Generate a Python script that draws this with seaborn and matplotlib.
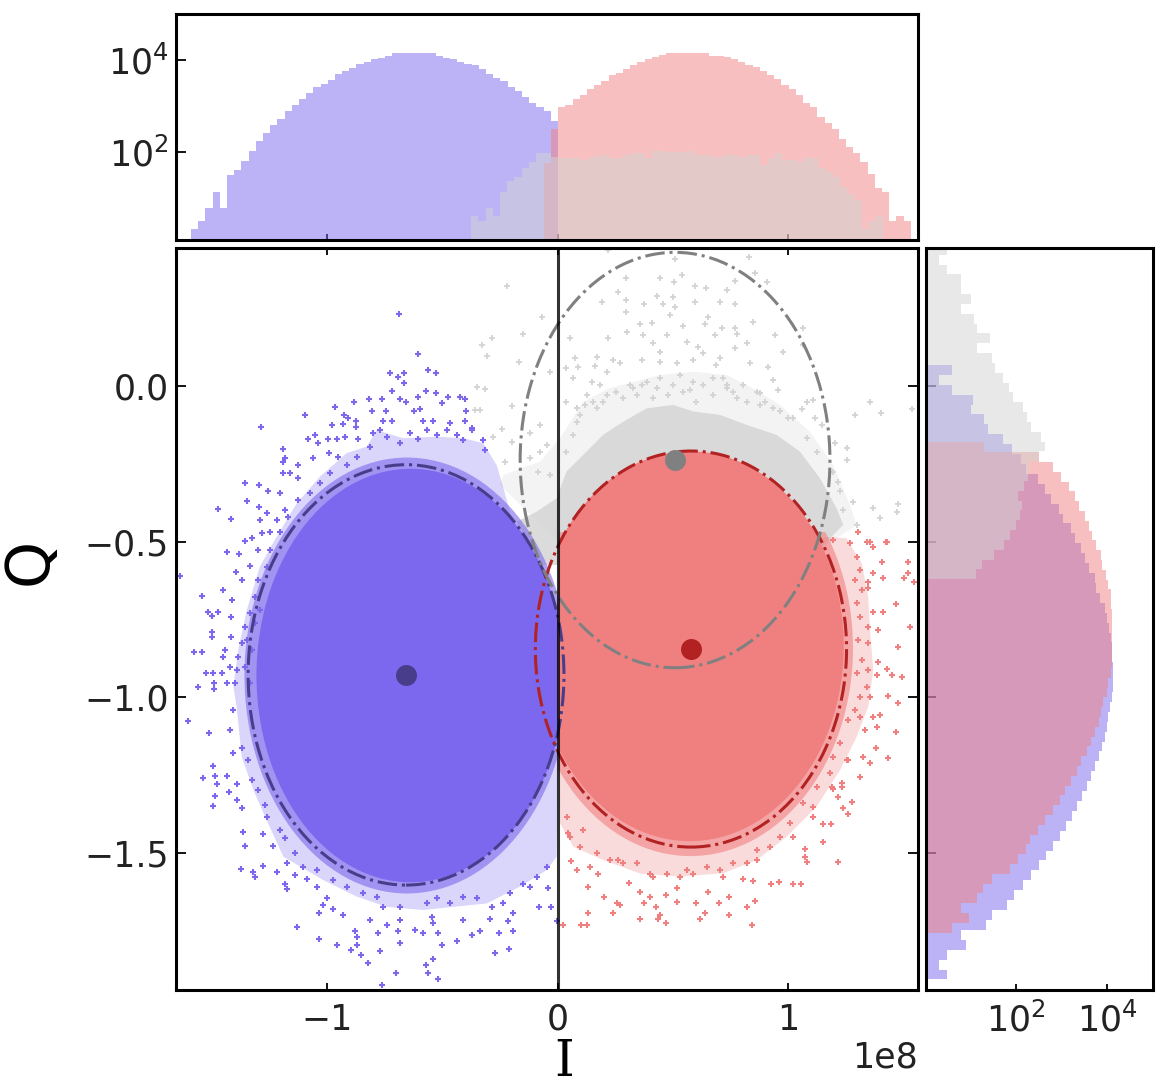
import numpy as np
import matplotlib
matplotlib.use("Agg")
import matplotlib.pyplot as plt
from matplotlib.patches import Ellipse, Rectangle
from matplotlib.ticker import NullLocator
import seaborn as sns

# =====================
# DATA (I in units of 1e8)
# =====================
SCALE = 1e8

top_blue_range = (-1.592, 0.0)
top_blue = [2, 3, 6, 13, 6, 31, 39, 63, 105, 170, 257, 380, 513, 759, 1023, 1380, 1862, 2512, 3020, 3715,
            5012, 5623, 6761, 8318, 9120, 10233, 11220, 12303, 13804, 13804, 13804, 13804, 13804, 13804,
            12303, 11220, 10233, 9120, 8318, 7586, 6166, 5012, 4074, 3388, 2512, 2089, 1549, 1122, 933, 759, 457]
top_red_range = (-0.061, 1.531)
top_red = [56, 309, 933, 1023, 1380, 1698, 2291, 2818, 3388, 4677, 5129, 6310, 7586, 9120, 10233, 11482, 12589,
           13804, 13804, 13804, 13804, 13804, 13804, 12303, 12303, 11482, 10233, 9120, 7586, 6918, 5623, 4677,
           3802, 2818, 2291, 1698, 1122, 933, 562, 417, 309, 190, 126, 95, 58, 32, 16, 13, 3, 4, 3]
top_gray_range = (-0.377, 1.412)
top_gray = [4, 3, 6, 4, 13, 23, 28, 44, 60, 91, 91, 76, 71, 71, 71, 65, 74, 79, 85, 71, 71, 85, 95, 95, 71,
            105, 105, 98, 98, 98, 105, 85, 85, 76, 76, 85, 85, 71, 85, 85, 52, 71, 95, 65, 65, 59, 71, 71,
            44, 35, 28, 17, 12, 9, 2, 3, 4]

# right histogram, listed from high Q to low Q
right_blue_range = (0.0675, -1.906)
right_blue = [4, 2, 4, 11, 10, 20, 24, 52, 79, 129, 166, 295, 427, 575, 851, 1047, 1585, 1950, 2570, 3162,
              3890, 5248, 5754, 6918, 8710, 9772, 10715, 11749, 12882, 12882, 13183, 13183, 13183, 12303, 11220,
              10233, 9772, 8710, 7586, 6457, 5248, 4365, 3548, 2754, 2138, 1660, 1230, 912, 646, 457,
              324, 214, 138, 91, 63, 30, 22, 6, 8, 3, 2, 3]
right_red_range = (-0.181, -1.756)
right_red = [20, 309, 646, 955, 1445, 1950, 2344, 3236, 3890, 4677, 5754, 7079, 7762, 9550, 10471, 11749, 11749,
             12882, 12882, 12882, 12882, 12882, 12303, 11749, 10471, 9772, 7943, 7079, 6607, 5370, 4365, 3548,
             2630, 2138, 1585, 1175, 891, 646, 437, 295, 200, 162, 110, 74, 30, 19, 14, 6, 9, 4]
right_gray_range = (0.453, -0.621)
right_gray = [3, 2, 3, 6, 6, 10, 6, 12, 14, 27, 14, 30, 35, 52, 71, 87, 141, 174, 214, 355, 427, 309, 191, 178,
              148, 110, 132, 120, 98, 72, 54, 33, 18, 13]

# class means and fitted circles: centre I, centre Q, semi axis I, semi axis Q
blue_mean = (-0.659, -0.928, 0.685, 0.675)
red_mean = (0.577, -0.845, 0.675, 0.636)
gray_mean = (0.508, -0.238, 0.672, 0.667)

# solid core of the clouds and the denser band round it: centre I, centre Q, semi axis I, semi axis Q
blue_core = (-0.640, -0.930, 0.668, 0.664)
red_core = (0.572, -0.836, 0.668, 0.626)
blue_band = (-0.655, -0.930, 0.705, 0.700)
red_band = (0.575, -0.842, 0.705, 0.668)

# outlines of the dense speckled zones
blue_halo_i = [-.230, -.266, -.324, -.410, -.526, -.671, -.786, -.830, -.917, -1.032, -1.133, -1.220, -1.293,
               -1.350, -1.387, -1.408, -1.394, -1.372, -1.321, -1.264, -1.191, -1.018, -.873, -.743, -.584,
               -.454, -.309, -.165, -.049, -.006, 0.0, 0.0, -.1]
blue_halo_q = [-.345, -.254, -.184, -.168, -.163, -.168, -.142, -.195, -.216, -.291, -.377, -.484, -.580,
               -.720, -.848, -.966, -1.030, -1.191, -1.298, -1.394, -1.512, -1.587, -1.640, -1.673, -1.683,
               -1.673, -1.662, -1.608, -1.555, -1.512, -1.2, -.7, -.7]
red_halo_i = [1.130, 1.252, 1.318, 1.346, 1.354, 1.368, 1.346, 1.296, 1.224, 1.122, .992, .862, .717, .529,
              .356, .197, .067, .009, 0.0, .5]
red_halo_q = [-.484, -.489, -.570, -.677, -.784, -.912, -1.030, -1.127, -1.234, -1.351, -1.448, -1.523, -1.565,
              -1.576, -1.566, -1.523, -1.480, -1.405, -1.2, -.8]
gray_body_i = [-.078, -.179, -.093, -.006, .037, .124, .196, .283, .385, .500, .587, .703, .818, .948, 1.050,
               1.137, 1.209, 1.238, 1.180, 1.093, .587, .009]
gray_body_q = [-.575, -.436, -.404, -.361, -.275, -.211, -.157, -.115, -.072, -.061, -.082, -.093, -.125, -.157,
               -.211, -.297, -.393, -.446, -.489, -.564, -.404, -.575]
gray_halo_i = [-.252, -.237, -.078, .009, .110, .225, .443, .587, .732, .848, .963, 1.093, 1.194, 1.267, 1.296,
               1.165, .5, 0.0]
gray_halo_q = [-.318, -.286, -.243, -.168, -.050, -.007, .035, .046, .035, -.008, -.061, -.147, -.254, -.382, -.447,
               -.511, -.5, -.5]

# single shots
blue_i = [-.690, -.607, -.729, -.668, -.694, -.668, -.564, -.529, -.720, -.572, -.529, -.607, -.425, -.477, -.763,
          -.821, -.885, -.685, -.659, -.503, -.402, -.969, -.807, -.746, -.624, -.598, -.399, -1.097, -.928, -.911,
          -.720, -.757, -.584, -.541, -.468, -.403, -.876, -.980, -1.287, -.931, -.876, -.374, -1.083, -1.055, -.998,
          -.960, -.924, -.866, -1.191, -1.040, -1.184, -1.191, -1.061, -.995, -.953, -1.191, -1.126, -1.162, -1.356,
          -1.295, -1.126, -1.256, -1.206, -1.347, -1.476, -1.417, -1.295, -1.264, -1.184, -1.217, -1.293, -1.358,
          -1.329, -1.434, -1.382, -1.285, -1.249, -1.300, -1.398, -1.336, -1.372, -1.452, -1.640, -1.546, -1.415,
          -1.520, -1.502, -1.476, -1.420, -1.502, -1.502, -1.420, -1.579, -1.546, -1.444, -1.452, -1.528, -1.495,
          -1.459, -1.423, -1.562, -1.492, -1.492, -1.437,
          -1.605, -1.512, -1.495, -1.538, -1.486, -1.478, -1.434, -1.426, -1.486, -1.495, -1.391, -1.391, -1.372,
          -1.365, -1.356, -1.278, -1.235, -1.373, -1.321, -1.313, -1.278, -1.217, -1.184, -1.177, -1.141, -1.090,
          -1.047, -1.003, -1.021, -.977, -1.038, -.934, -1.133, -1.038, -.960, -.880, -.873, -.873, -.898, -.856,
          -.823, -.772, -.779, -.743, -.692, -.685, -.620, -.584, -.519, -.504, -.439, -.374, -.338, -.254, -.193,
          -.273, -.211, -.541, -.572, -.703, -.565, -.522, -.762, -.082, -.032, -.006, -.193, -.295, -.215, -.815,
          -.541, -.410, -.548, -.685]
blue_q = [.231, .103, .041, .041, .028, .009, .051, .041, -.017, -.017, -.024, -.036, -.036, -.036, -.043,
          -.043, -.050, -.043, -.050, -.056, -.043, -.069, -.081, -.081, -.081, -.075, -.081, -.094, -.094, -.104,
          -.114, -.114, -.114, -.114, -.120, -.114, -.114, -.125, -.133, -.122, -.131, -.136, -.171, -.159, -.171,
          -.171, -.165, -.171, -.201, -.184, -.232, -.243, -.232, -.216, -.227, -.279, -.254, -.279, -.311,
          -.318, -.297, -.336, -.345, -.368, -.394, -.426, -.388, -.409, -.398, -.431, -.431, -.497,
          -.489, -.533, -.540, -.473, -.468, -.527, -.596, -.578, -.623, -.655, -.610, -.675, -.687,
          -.725, -.739, -.725, -.741, -.789, -.807, -.805, -.853, -.853, -.848, -.872, -.923, -.923,
          -.923, -.902, -.968, -.955, -.974, -.955,
          -1.075, -1.114, -1.221, -1.260, -1.253, -1.280, -1.253, -1.305, -1.317, -1.349, -1.280, -1.330, -1.357,
          -1.432, -1.477, -1.439, -1.477, -1.553, -1.560, -1.578, -1.541, -1.560, -1.598, -1.617, -1.572, -1.585,
          -1.608, -1.643, -1.668, -1.681, -1.694, -1.700, -1.739, -1.776, -1.796, -1.750, -1.771, -1.796, -1.812, -1.828,
          -1.854, -1.815, -1.758, -1.731, -1.751, -1.790, -1.747, -1.758, -1.758, -1.796, -1.783, -1.764, -1.751, -1.758, -1.751,
          -1.822, -1.809, -1.840, -1.860, -1.885, -1.885, -1.904, -1.923, -1.675, -1.675, -1.718, -1.694, -1.713, -1.719, -1.716,
          -1.726, -1.716, -1.705, -1.716]
blue_near_i = [-.801, -.772, -.743, -.685, -.642, -.606, -.570, -.526, -.483, -.440, -.410, -.374, -.324, -.316,
               -.815, -.873, -.917, -.989, -1.032, -1.076, -1.126, -1.170, -1.206, -1.249, -1.264, -1.300, -1.314,
               -1.336, -1.358, -1.372, -1.387, -1.394, -1.401, -1.336, -1.358, -1.329, -1.350, -1.314, -1.293,
               -1.408, -1.423, -1.372, -1.408, -1.343, -1.329, -1.300, -1.271, -1.264, -1.206, -1.184, -1.141,
               -1.177, -1.104, -1.047, -.974, -.917, -.844, -.786, -.757, -.685, -.569, -.526, -.468, -.410, -.353,
               -.288, -.237, -.208, -.150, -.092, -.049, -.042, -.121]
blue_near_q = [-.152, -.141, -.165, -.184, -.152, -.171, -.141, -.157, -.141, -.157, -.173, -.141, -.173, -.206,
               -.195, -.227, -.254, -.281, -.313, -.345, -.366, -.420, -.468, -.527, -.580, -.623, -.677,
               -.730, -.773, -.827, -.870, -.912, -.955, -.955, -.902, -.848, -.816, -.762, -.720,
               -1.041, -1.105, -1.164, -1.180, -1.201, -1.266, -1.298, -1.346, -1.384, -1.426, -1.453, -1.501,
               -1.533, -1.544, -1.555, -1.587, -1.608, -1.630, -1.640, -1.673, -1.673, -1.662, -1.646, -1.662, -1.640, -1.646,
               -1.673, -1.662, -1.630, -1.598, -1.576, -1.544, -1.614, -1.608]

red_i = [1.423, 1.354, 1.520, 1.404, 1.520, 1.501, 1.545, 1.411, 1.467, 1.411, 1.527, 1.477, 1.390, 1.390, 1.426,
         1.448, 1.494, 1.383, 1.433, 1.477, 1.397, 1.368, 1.383, 1.467, 1.380, 1.433, 1.354, 1.322, 1.310, 1.277,
         1.235, 1.260, 1.216, 1.183, 1.148, 1.148, 1.216, 1.072, 1.072, 1.079, 1.053, 1.021, .959, .924, .847, .804,
         .855, .821, .840, .743, .700, .743, .638, .616, .469, .442, .435, .356, .240, .132, .124, .098, .020, .269,
         .255, .201, .132, .356, .373, .425, .399, .518, .601, .652, .515, .310, .469, .139, .084, .055, .175, .045,
         1.368, 1.346, 1.368, 1.346, 1.354, 1.332, 1.252, 1.231, 1.195, 1.108, 1.021, .862, .717, .558, .399, .262,
         1.426, 1.519, 1.368, 1.339, 1.303]
red_q = [-.502, -.502, -.566, -.566, -.602, -.618, -.629, -.618, -.700, -.725, -.775, -.839, -.784, -.886, -.910,
         -.928, -.934, -.928, -.995, -1.019, -1.057, -1.062, -1.094, -1.113, -1.164, -1.196, -1.212, -1.191, -1.255, -1.335,
         -1.355, -1.375, -1.319, -1.407, -1.407, -1.464, -1.528, -1.488, -1.512, -1.528, -1.598, -1.598, -1.592, -1.598, -1.589, -1.585,
         -1.653, -1.673, -1.731, -1.640, -1.662, -1.699, -1.694, -1.712, -1.726, -1.699, -1.712, -1.712, -1.694, -1.694, -1.731, -1.731, -1.731, -1.667,
         -1.660, -1.640, -1.610, -1.624, -1.662, -1.675, -1.640, -1.656, -1.662, -1.624, -1.614, -1.596, -1.635, -1.546, -1.555, -1.525, -1.566, -1.437,
         -.602, -.650, -.725, -.827, -.998, -1.105, -1.201, -1.276, -1.293, -1.383, -1.448, -1.523, -1.576, -1.555, -1.566, -1.523,
         -.500, -.565, -.516, -.500, -.468]
red_near_i = [1.195, 1.267, 1.296, 1.310, 1.289, 1.318, 1.346, 1.296, 1.310, 1.346, 1.303, 1.318, 1.346, 1.296, 1.339,
              1.310, 1.289, 1.260, 1.310, 1.224, 1.260, 1.195, 1.180, 1.231, 1.187, 1.122, 1.108, 1.064, 1.007, .963,
              .920, .862, .819, .761, .703, .645, .587, .529, .471, .414, .341, .284, .226, .168, .095, .052, .110, .038]
red_near_q = [-.495, -.505, -.548, -.591, -.623, -.655, -.629, -.698, -.741, -.773, -.816, -.880, -.912, -.923, -.966,
              -.998, -1.041, -1.073, -1.062, -1.148, -1.201, -1.191, -1.244, -1.287, -1.287, -1.287, -1.351, -1.341, -1.405, -1.448,
              -1.480, -1.490, -1.533, -1.533, -1.555, -1.544, -1.566, -1.576, -1.566, -1.576, -1.533, -1.533, -1.523, -1.501, -1.480, -1.448, -1.426, -1.383]

gray_i = [.218, .830, .508, -.223, -.288, -.331, -.307, -.150, -.071, -.168, .443, .295, .536, .768, .855, .905, .503,
          .594, .642, .732, .262, .428, .500, .189, .295, .373, .457, .507, .594, .703, .768, .295, .486, .652, .847,
          .356, .406, .544, .638, 1.064, .710, .768, .052, .298, .370, .471, .681, .775, .942, 1.064, .218, .414, .558,
          .609, .768, .819, .978, .168, .074, .443, .631, .703, .037, .088, .161, .240, .363, .515, .587, .686, .833,
          .912, .211, .269, .443, -.035, .066, .146, -.353, -.317, -.201, -.244, -.360, -.338, 1.354, 1.400, 1.534,
          1.288, 1.079, 1.108, .934, .956, .876, .037, .081, 1.057, 1.115, 1.144, 1.252, 1.202, 1.252, 1.216, 1.281,
          1.238, 1.368, 1.469, 1.476, 1.296, 1.397, -.078, -.122, -.201, -.281, -.078, -.122, -.230, -.035, -.085, -.049,
          .182, .254, .312, .363, .428, .500, .572, .631, .717, .732, .804, .862, .197, .283, .341, .413, .479, .544,
          .601, .674, .775, .819, .898, .124, .117, .168, .934, 1.000, .081,
          .443, .529, .587, .674, .732, .761, .385, .327, .211, .153, .095, .066, .037, .876, .963, 1.021, 1.079, 1.122,
          1.194, 1.223]
gray_q = [.437, .415, .408, .320, .155, .130, .097, .166, .220, .078, .346, .346, .357, .337, .362, .333, .333,
          .320, .314, .308, .301, .290, .287, .269, .276, .262, .262, .255, .269, .269, .262, .239, .228, .220, .205,
          .198, .201, .194, .198, .185, .185, .185, .153, .172, .164, .164, .164, .166, .164, .132, .153, .137, .140,
          .126, .121, .137, .110, .094, .089, .110, .105, .089, .059, .062, .065, .084, .084, .073, .084, .067, .073,
          .062, .046, .073, .078, .046, .025, .014, -.005, -.009, -.063, -.138, -.077, -.077, -.050, -.088, -.075,
          -.093, -.050, -.045, .019, -.013, -.023, -.050, -.072, -.074, -.104, -.125, -.200, -.184, -.238, -.307, -.372,
          -.398, -.393, -.404, -.380, -.447, -.425, -.125, -.152, -.179, -.163, -.211, -.232, -.243, -.286, -.275, -.190,
          .003, -.018, .003, .003, -.007, .003, -.013, .003, .025, -.007, .003, -.018, -.050, -.040, -.029, -.040, -.029, -.018,
          -.050, -.029, -.040, -.050, -.050, -.029, -.061, -.072, -.072, -.104, -.115,
          .025, .035, .014, .025, .003, -.018, .014, -.007, -.029, -.050, -.093, -.157, -.211, -.061, -.082, -.104, -.168, -.211,
          -.275, -.339]

x_ticks = [-1, 0, 1]
y_ticks = [0.0, -0.5, -1.0, -1.5]
count_ticks = [1e2, 1e4]

# =====================
# STYLE
# =====================
sns.set_theme(style="white")
plt.rcParams['font.family'] = ['DejaVu Sans']

BLUE = "mediumslateblue"
RED = "lightcoral"
GRAY = "lightgray"
W, H = 1167, 1089

fig = plt.figure(figsize=(W / 100, H / 100), dpi=100)
ax = fig.add_axes([176 / W, 1 - 990 / H, 742 / W, 742 / H])
ax_top = fig.add_axes([176 / W, 1 - 240 / H, 742 / W, 226 / H])
ax_right = fig.add_axes([926 / W, 1 - 990 / H, 227 / W, 742 / H])


def hist_top(counts, rng, color):
    edges = np.linspace(rng[0], rng[1], len(counts) + 1) * SCALE
    centers = (edges[:-1] + edges[1:]) / 2
    sns.histplot(x=centers, weights=counts, bins=list(edges), element="step", fill=True,
                 color=color, alpha=0.5, linewidth=0, ax=ax_top)


def hist_right(counts, rng, color):
    edges = np.linspace(rng[1], rng[0], len(counts) + 1)
    centers = (edges[:-1] + edges[1:]) / 2
    sns.histplot(y=centers, weights=counts[::-1], bins=list(edges), element="step", fill=True,
                 color=color, alpha=0.5, linewidth=0, ax=ax_right)


# =====================
# HISTOGRAMS
# =====================
hist_top(top_blue, top_blue_range, BLUE)
hist_top(top_red, top_red_range, RED)
hist_top(top_gray, top_gray_range, GRAY)
hist_right(right_blue, right_blue_range, BLUE)
hist_right(right_red, right_red_range, RED)
hist_right(right_gray, right_gray_range, GRAY)


# =====================
# IQ PLANE
# =====================
def blob(params, color, clip_rect, zorder, alpha=1.0):
    e = Ellipse((params[0] * SCALE, params[1]), 2 * params[2] * SCALE, 2 * params[3],
                facecolor=color, edgecolor="none", alpha=alpha, zorder=zorder)
    ax.add_patch(e)
    e.set_clip_path(Rectangle((clip_rect[0] * SCALE, clip_rect[1]), (clip_rect[2] - clip_rect[0]) * SCALE,
                              clip_rect[3] - clip_rect[1], transform=ax.transData))


ax.fill(np.array(gray_halo_i) * SCALE, gray_halo_q, color=GRAY, alpha=0.25, linewidth=0, zorder=0.8)
ax.fill(np.array(gray_body_i) * SCALE, gray_body_q, color=GRAY, alpha=0.8, linewidth=0, zorder=1)
sns.scatterplot(x=np.array(gray_i) * SCALE, y=gray_q, marker="+", s=14, linewidth=1.3, color=GRAY, ax=ax, zorder=1.5)

ax.fill(np.array(blue_halo_i) * SCALE, blue_halo_q, color=BLUE, alpha=0.28, linewidth=0, zorder=2)
sns.scatterplot(x=np.array(blue_i + blue_near_i) * SCALE, y=blue_q + blue_near_q, marker="+", s=14, linewidth=1.5,
                color=BLUE, ax=ax, zorder=2.2)
blob(blue_band, BLUE, (-2, -2, 0, 1), 2.3, alpha=0.6)
blob(blue_core, BLUE, (-2, -2, 0, 1), 2.5)

ax.fill(np.array(red_halo_i) * SCALE, red_halo_q, color=RED, alpha=0.28, linewidth=0, zorder=3)
sns.scatterplot(x=np.array(red_i + red_near_i) * SCALE, y=red_q + red_near_q, marker="+", s=14, linewidth=1.5,
                color=RED, ax=ax, zorder=3.2)
blob(red_band, RED, (0, -2, 2, -0.47), 3.3, alpha=0.6)
blob(red_core, RED, (0, -2, 2, 1), 3.5)

for params, color in [(blue_mean, "darkslateblue"), (red_mean, "firebrick"), (gray_mean, "gray")]:
    ax.add_patch(Ellipse((params[0] * SCALE, params[1]), 2 * params[2] * SCALE, 2 * params[3], fill=False,
                         edgecolor=color, linestyle="-.", linewidth=2.2, zorder=5))
    sns.scatterplot(x=[params[0] * SCALE], y=[params[1]], s=228, color=color, linewidth=0, ax=ax, zorder=6)

ax.axvline(0, color="black", alpha=0.8, linewidth=2.2, zorder=7)

# =====================
# AXES
# =====================
ax.set_xlim(-1.657 * SCALE, 1.562 * SCALE)
ax.set_ylim(-1.940, 0.443)
ax.set_xticks([t * SCALE for t in x_ticks])
ax.set_yticks(y_ticks)
ax.set_xlabel("I", fontsize=36, family="DejaVu Serif", color="black")
ax.set_ylabel("Q", fontsize=43, color="black")
ax.xaxis.set_label_coords(0.5225, -0.116)
ax.yaxis.set_label_coords(-0.196, 0.577)
ax.xaxis.label.set_va("baseline")
ax.yaxis.label.set_va("center")
ax.tick_params(axis="x", which="major", direction="in", length=5, width=1.3, labelsize=25, pad=9,
               top=True, bottom=True, color="black", labelcolor="#222222")
ax.tick_params(axis="y", which="major", direction="in", length=7, width=1.3, labelsize=25, pad=5,
               left=True, right=True, color="black", labelcolor="#222222")
ax.xaxis.get_offset_text().set_fontsize(25)
ax.xaxis.get_offset_text().set_color("#222222")

ax_top.set_xlim(ax.get_xlim())
ax_top.set_yscale("log")
ax_top.set_ylim(1.18, 1e5)
ax_top.set_xticks([t * SCALE for t in x_ticks])
ax_top.set_yticks(count_ticks)
ax_top.yaxis.set_minor_locator(NullLocator())
ax_top.set_xlabel("")
ax_top.set_ylabel("")
ax_top.tick_params(axis="x", direction="in", length=4, width=1.3, labelbottom=False, bottom=True, color="black")
ax_top.tick_params(axis="y", direction="in", length=7, width=1.3, labelsize=25, pad=5, left=True,
                   color="black", labelcolor="#222222")
ax_top.xaxis.get_offset_text().set_visible(False)

ax_right.set_ylim(ax.get_ylim())
ax_right.set_xscale("log")
ax_right.set_xlim(1.05, 1e5)
ax_right.set_yticks(y_ticks)
ax_right.set_xticks(count_ticks)
ax_right.xaxis.set_minor_locator(NullLocator())
ax_right.set_xlabel("")
ax_right.set_ylabel("")
ax_right.tick_params(axis="x", direction="in", length=4, width=1.3, labelsize=25, pad=9, bottom=True,
                     color="black", labelcolor="#222222")
ax_right.tick_params(axis="y", direction="in", length=7, width=1.3, labelleft=False, left=True, color="black")

for a in [ax, ax_top, ax_right]:
    for spine in a.spines.values():
        spine.set_linewidth(2.2)
        spine.set_color("black")
        spine.set_zorder(10)

fig.savefig("out.png", dpi=100)
plt.close(fig)
